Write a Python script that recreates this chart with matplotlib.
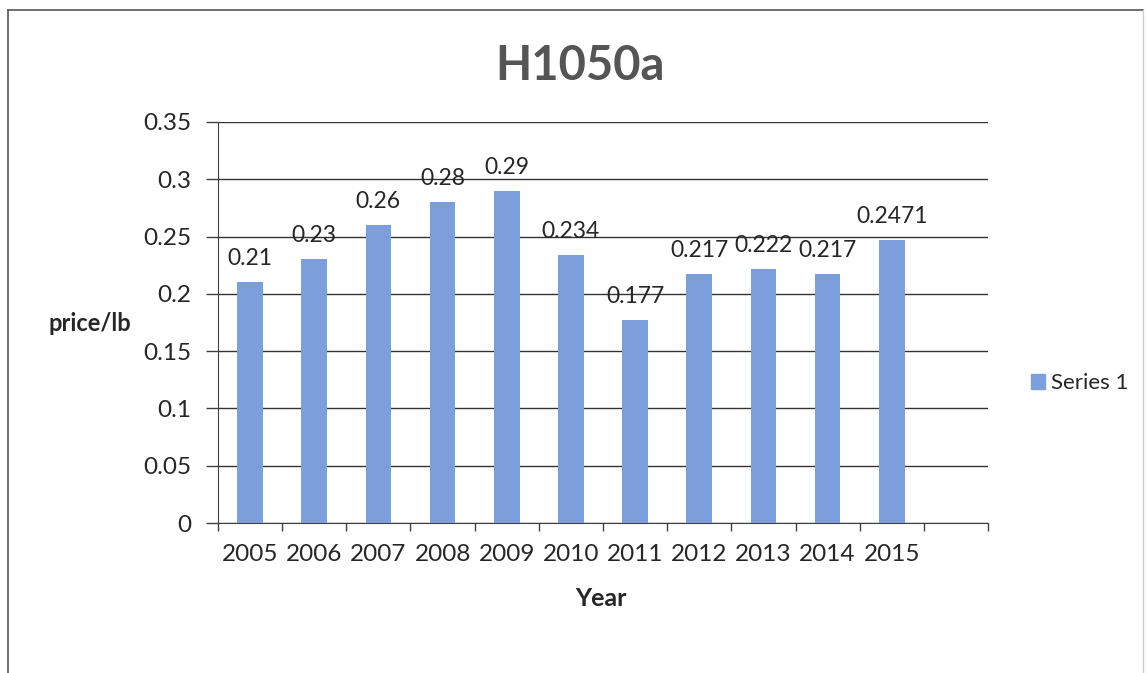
import numpy as np
import matplotlib.pyplot as plt
from matplotlib.patches import Rectangle
from matplotlib.lines import Line2D

years = ['2005', '2006', '2007', '2008', '2009', '2010', '2011', '2012', '2013', '2014', '2015', '']
prices = [0.21, 0.23, 0.26, 0.28, 0.29, 0.234, 0.177, 0.217, 0.222, 0.217, 0.2471]
price_labels = ['0.21', '0.23', '0.26', '0.28', '0.29', '0.234', '0.177', '0.217', '0.222', '0.217', '0.2471']
series_name = 'Series 1'

plt.rcParams['font.family'] = ['Lato', 'DejaVu Sans']
barcol = '#7c9fdc'
txtcol = '#262626'

fig = plt.figure(figsize=(11.47, 6.73), dpi=100)
ax = fig.add_axes([218/1147, 150/673, 770/1147, 401/673])

X = np.arange(len(prices))
ax.bar(X, prices, width=0.4, color=barcol, label=series_name, zorder=3)
for x, v, s in zip(X, prices, price_labels):
    ax.annotate(s, (x, v), xytext=(0, 17), textcoords='offset points',
                ha='center', va='center', fontsize=16.5, color=txtcol, zorder=4)

ax.set_xlim(-0.5, len(years) - 0.5)
ax.set_ylim(0, 0.35)
ax.set_yticks(np.arange(0, 0.351, 0.05))
ax.set_yticklabels(['0', '0.05', '0.1', '0.15', '0.2', '0.25', '0.3', '0.35'])
ax.set_xticks(np.arange(len(years)))
ax.set_xticklabels(years)
ax.set_xticks(np.arange(len(years) + 1) - 0.5, minor=True)
ax.tick_params(axis='x', which='major', length=0, pad=15, labelsize=17.5, colors=txtcol)
ax.tick_params(axis='x', which='minor', length=6, width=1, color='#404040', direction='out')
ax.tick_params(axis='y', length=9, width=1, color='#404040', pad=10, labelsize=17.5, labelcolor=txtcol)
ax.grid(axis='y', color='#333333', linewidth=1, zorder=0)
ax.set_axisbelow(True)
for sp in ['top', 'right']:
    ax.spines[sp].set_visible(False)
ax.spines['left'].set_color('#404040')
ax.spines['bottom'].set_color('#404040')

fig.text(580/1147, 1 - 66/673, 'H1050a', ha='center', va='center', fontsize=34,
         fontweight='bold', color='#555555')
fig.text(90/1147, 1 - 323/673, 'price/lb', ha='center', va='center', fontsize=17,
         fontweight='bold', color=txtcol)
fig.text(601/1147, 1 - 598/673, 'Year', ha='center', va='center', fontsize=18,
         fontweight='bold', color=txtcol)

fig.legend(handles=[Rectangle((0, 0), 1, 1, color=barcol)], labels=[series_name],
           loc='center left', bbox_to_anchor=(1011/1147, 1 - 383/673), frameon=False,
           fontsize=16, handlelength=0.65, handleheight=0.65, handletextpad=0.25,
           labelcolor=txtcol)

# outer chart border
fig.add_artist(Line2D([8/1147, 8/1147], [0, 1 - 10/673], transform=fig.transFigure, color='#555555', lw=1.2))
fig.add_artist(Line2D([8/1147, 1143/1147], [1 - 10/673, 1 - 10/673], transform=fig.transFigure, color='#555555', lw=1.2))
fig.add_artist(Line2D([1143/1147, 1143/1147], [0, 1 - 10/673], transform=fig.transFigure, color='#cccccc', lw=1))

fig.savefig('out.png', dpi=100)
